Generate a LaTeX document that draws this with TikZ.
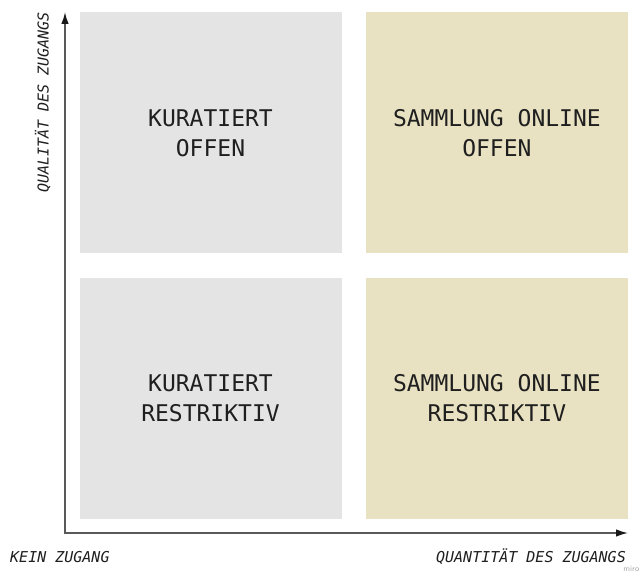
\documentclass[tikz,border=0pt]{standalone}
\usepackage{fontspec}
\setmonofont{DejaVu Sans Mono}
\usetikzlibrary{arrows.meta, positioning}
\definecolor{kurgray}{HTML}{E4E4E4}
\definecolor{sambeige}{HTML}{E9E2C2}
\tikzset{> = { Latex[length = 12pt, width = 7.5pt, color = black!90] }}

\begin{document}
\begin{tikzpicture}[x = 1pt, y = -1pt,
		quad/.style = { minimum width = 262pt, minimum height = 241pt, inner sep = 0pt, align = center, text = black!88, font = \ttfamily\fontsize{23}{30}\selectfont },
		axislabel/.style = { inner sep = 0pt, text = black!88, font = \ttfamily\itshape\fontsize{15}{18}\selectfont }]
		\useasboundingbox (0,0) rectangle (640,572);

		\node [quad, fill = kurgray]                        (ko) at (210.5,133) {KURATIERT\\OFFEN};
		\node [quad, fill = sambeige, right = 24pt of ko]   (so) {SAMMLUNG ONLINE\\OFFEN};
		\node [quad, fill = kurgray, below = 24pt of ko]    (kr) {KURATIERT\\RESTRIKTIV};
		\node [quad, fill = sambeige, below = 24pt of so]   (sr) {SAMMLUNG ONLINE\\RESTRIKTIV};

		\coordinate (origin)   at (65,533);
		\coordinate (qualEnd)  at (65,12);
		\coordinate (quantEnd) at (628,533);
		\draw [<->, line width = 1.5pt, black!65] (qualEnd) -- (origin) -- (quantEnd);

		\node [axislabel, anchor = base west]            (kein)  at (10,562)   {KEIN ZUGANG};
		\node [axislabel, anchor = base east]            (quant) at (626,562)  {QUANTITÄT DES ZUGANGS};
		\node [axislabel, anchor = base east, rotate = 90] (qual) at (48.5,12) {QUALITÄT DES ZUGANGS};

		\node [anchor = south east, inner sep = 0.5pt, text = black!35, font = \sffamily\fontsize{8}{9}\selectfont] (miro) at (640,572) {miro};
	\end{tikzpicture}
\end{document}
